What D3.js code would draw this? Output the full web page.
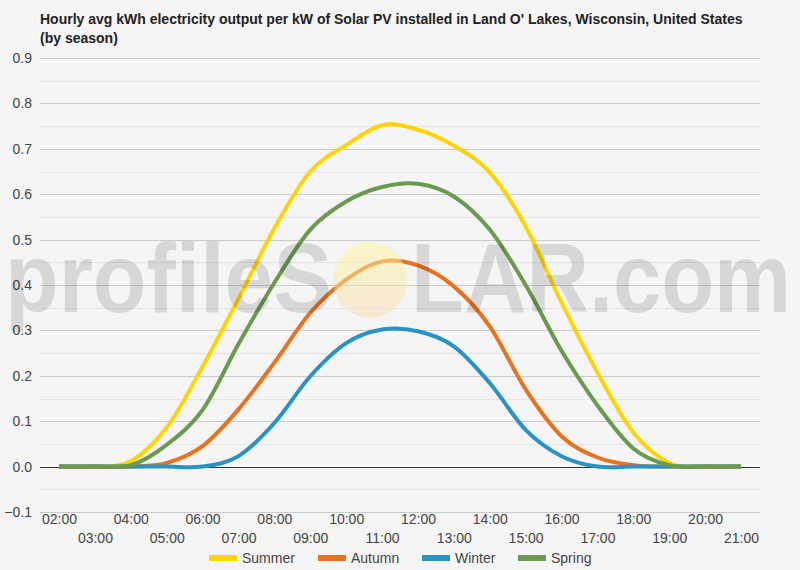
<!DOCTYPE html>
<html>
<head>
<meta charset="utf-8">
<script src="https://cdn.jsdelivr.net/npm/d3@7"></script>
<style>
  html, body { margin: 0; padding: 0; background: #f5f5f5; }
  svg { display: block; font-family: Arial, "Liberation Sans", sans-serif; }
</style>
</head>
<body>
<svg id="chart" width="800" height="570"></svg>
<script>
const hours = [2,3,4,5,6,7,8,9,10,11,12,13,14,15,16,17,18,19,20,21];
const hourLabels = ["02:00","03:00","04:00","05:00","06:00","07:00","08:00","09:00","10:00","11:00","12:00","13:00","14:00","15:00","16:00","17:00","18:00","19:00","20:00","21:00"];
const summer = [0,0,0.012,0.086,0.22,0.37,0.525,0.65,0.708,0.752,0.742,0.707,0.648,0.529,0.361,0.207,0.075,0.008,0,0];
const autumn = [0,0,0,0.008,0.045,0.126,0.229,0.339,0.412,0.452,0.443,0.397,0.309,0.17,0.067,0.02,0.003,0,0,0];
const winter = [0,0,0,0,0,0.023,0.096,0.199,0.272,0.302,0.298,0.265,0.184,0.081,0.023,0,0,0,0,0];
const spring = [0,0,0.003,0.048,0.125,0.27,0.405,0.522,0.584,0.616,0.623,0.595,0.522,0.4,0.255,0.135,0.04,0.003,0,0];
const seriesNames = ["Summer","Autumn","Winter","Spring"];
const seriesColors = ["#ffd400","#e8731e","#2a93c4","#6a9a50"];
const yTicks = [-0.1,0,0.1,0.2,0.3,0.4,0.5,0.6,0.7,0.8,0.9];
const yMinorTicks = [-0.05,0.05,0.15,0.25,0.35,0.45,0.55,0.65,0.75,0.85];
const titleLines = ["Hourly avg kWh electricity output per kW of Solar PV installed in Land O' Lakes, Wisconsin, United States","(by season)"];

const seriesValues = [summer, autumn, winter, spring];
const svg = d3.select("#chart");
svg.append("rect").attr("width",800).attr("height",570).attr("fill","#f5f5f5");

const plotLeft = 40, plotRight = 760;
const x = d3.scaleLinear().domain([2,21]).range([59,741]);
const y = d3.scaleLinear().domain([-0.1,0.9]).range([512,58]);

// title
svg.append("g").selectAll("text").data(titleLines).join("text")
  .attr("x",40).attr("y",(d,i)=>24+i*18.5)
  .attr("font-size",14).attr("font-weight","bold").attr("fill","#222")
  .text(d=>d);

// gridlines
const grid = svg.append("g");
grid.selectAll("line.minor").data(yMinorTicks).join("line").attr("class","minor")
  .attr("x1",plotLeft).attr("x2",plotRight)
  .attr("y1",d=>Math.round(y(d))+0.5).attr("y2",d=>Math.round(y(d))+0.5)
  .attr("stroke","#e4e4e4").attr("stroke-width",1);
grid.selectAll("line.major").data(yTicks.filter(d=>d!==0)).join("line").attr("class","major")
  .attr("x1",plotLeft).attr("x2",plotRight)
  .attr("y1",d=>Math.round(y(d))+0.5).attr("y2",d=>Math.round(y(d))+0.5)
  .attr("stroke","#cccccc").attr("stroke-width",1);

// y axis labels
const yAxis = d3.axisLeft(y).tickValues(yTicks).tickSize(0).tickPadding(0).tickFormat(d3.format(".1f"));
const yg = svg.append("g").attr("transform","translate(32,0)").call(yAxis);
yg.select(".domain").remove();
yg.selectAll("text").attr("font-size",14).attr("fill","#444").attr("font-family","Arial, 'Liberation Sans', sans-serif");

// x axis labels (two rows)
const xAxis = d3.axisBottom(x).tickValues(hours).tickSize(0).tickPadding(0)
  .tickFormat((d,i)=>hourLabels[i]);
const xg = svg.append("g").attr("transform","translate(0,514)").call(xAxis);
xg.select(".domain").remove();
xg.selectAll("text").attr("font-size",14).attr("fill","#444").attr("font-family","Arial, 'Liberation Sans', sans-serif")
  .attr("dy",(d,i)=> i%2===0 ? "0.71em" : "2.05em");

// zero line
svg.append("line").attr("x1",plotLeft).attr("x2",plotRight)
  .attr("y1",Math.round(y(0))+0.5).attr("y2",Math.round(y(0))+0.5)
  .attr("stroke","#333").attr("stroke-width",1);

// series lines
const line = d3.line().x((d,i)=>x(hours[i])).y(d=>y(d)).curve(d3.curveCardinal.tension(0));
const lg = svg.append("g");
seriesValues.forEach((vals,k)=>{
  lg.append("path").datum(vals).attr("d",line).attr("fill","none")
    .attr("stroke",seriesColors[k]).attr("stroke-width",4)
    .attr("stroke-linejoin","round").attr("stroke-linecap","butt");
});

// watermark
const defs = svg.append("defs");
const grad = defs.append("linearGradient").attr("id","sun").attr("x1",0).attr("y1",0).attr("x2",0).attr("y2",1);
grad.append("stop").attr("offset","0%").attr("stop-color","#fffa9a").attr("stop-opacity",0.5);
grad.append("stop").attr("offset","100%").attr("stop-color","#f7d9b0").attr("stop-opacity",0.5);
const wm = svg.append("g").attr("pointer-events","none");
wm.append("text").attr("x",5).attr("y",312).attr("font-size",98).attr("font-weight","bold")
  .attr("textLength",327).attr("lengthAdjust","spacingAndGlyphs")
  .attr("fill","#000").attr("fill-opacity",0.12).text("profileS");
wm.append("ellipse").attr("cx",370).attr("cy",280).attr("rx",37).attr("ry",38).attr("fill","url(#sun)");
wm.append("text").attr("x",411).attr("y",312).attr("font-size",98).attr("font-weight","bold")
  .attr("textLength",380).attr("lengthAdjust","spacingAndGlyphs")
  .attr("fill","#000").attr("fill-opacity",0.12).text("LAR.com");

// legend
const legendX = [209,318,422,518];
const leg = svg.append("g");
seriesNames.forEach((n,k)=>{
  leg.append("rect").attr("x",legendX[k]).attr("y",555).attr("width",28).attr("height",6).attr("fill",seriesColors[k]);
  leg.append("text").attr("x",legendX[k]+33).attr("y",563).attr("font-size",14).attr("fill","#444").text(n);
});
</script>
</body>
</html>
